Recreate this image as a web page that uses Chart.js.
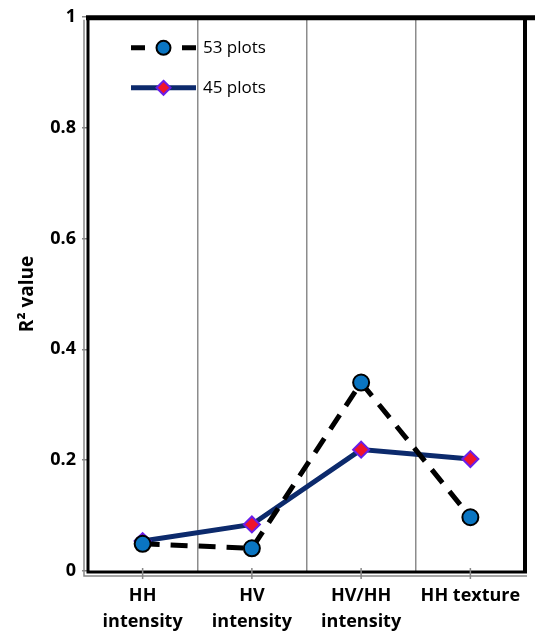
<!DOCTYPE html>
<html>
<head>
<meta charset="utf-8">
<script src="https://cdn.jsdelivr.net/npm/chart.js@4"></script>
<style>
  body { margin: 0; background: #fff; }
  #wrap { width: 535px; height: 635px; }
</style>
</head>
<body>
<div id="wrap"><canvas id="r2Chart" width="535" height="635"></canvas></div>
<script>
// data
let categories = [['HH', 'intensity'], ['HV', 'intensity'], ['HV/HH', 'intensity'], ['HH texture']];
let plots53 = [0.049, 0.041, 0.34, 0.097];
let plots45 = [0.054, 0.084, 0.219, 0.202];
let seriesNames = ['53 plots', '45 plots'];
let yTicks = [0, 0.2, 0.4, 0.6, 0.8, 1];

let fontFam = '"Open Sans", Lato, sans-serif';

// legend drawn inside the plot, top left
let insideLegend = {
    id: 'insideLegend',
    afterDatasetsDraw(chart) {
        let c = chart.ctx;
        let a = chart.chartArea;
        chart.data.datasets.forEach(function (ds, i) {
            let y = a.top + 31 + i * 40;
            let x0 = a.left + 43, x1 = a.left + 108, xm = (x0 + x1) / 2;
            c.save();
            c.strokeStyle = ds.borderColor;
            c.lineWidth = ds.borderWidth;
            c.beginPath();
            if (ds.borderDash) {
                c.moveTo(x0, y); c.lineTo(x0 + 14, y);
                c.moveTo(x1 - 14, y); c.lineTo(x1, y);
            } else {
                c.moveTo(x0, y); c.lineTo(x1, y);
            }
            c.stroke();
            c.fillStyle = ds.pointBackgroundColor;
            c.strokeStyle = ds.pointBorderColor;
            c.lineWidth = ds.pointBorderWidth;
            c.beginPath();
            if (ds.pointStyle === 'rectRot') {
                let r = ds.pointRadius - 1;
                c.moveTo(xm, y - r); c.lineTo(xm + r, y); c.lineTo(xm, y + r); c.lineTo(xm - r, y); c.closePath();
            } else {
                c.arc(xm, y, ds.pointRadius - 1, 0, Math.PI * 2);
            }
            c.fill();
            c.stroke();
            c.fillStyle = '#000';
            c.font = '17px ' + fontFam;
            c.textBaseline = 'middle';
            c.fillText(ds.label, x1 + 7, y);
            c.restore();
        });
    }
};

// heavy frame: thick top, right and axis lines, tick marks
let frame = {
    id: 'frame',
    afterDraw(chart) {
        let c = chart.ctx;
        let a = chart.chartArea;
        let xs = chart.scales.x;
        c.save();
        c.strokeStyle = '#000';
        c.lineWidth = 5;
        c.beginPath();
        c.moveTo(a.left - 2, a.top + 1); c.lineTo(chart.width, a.top + 1);
        c.stroke();
        c.lineWidth = 4;
        c.beginPath();
        c.moveTo(a.right, a.top); c.lineTo(a.right, a.bottom);
        c.stroke();
        c.lineWidth = 3;
        c.beginPath();
        c.moveTo(a.left, a.top); c.lineTo(a.left, a.bottom + 1);
        c.lineTo(a.right + 2, a.bottom + 1);
        c.stroke();
        c.strokeStyle = '#888';
        c.lineWidth = 1.5;
        c.beginPath();
        c.moveTo(a.left - 4, a.top + 3); c.lineTo(a.left - 4, a.bottom + 5);
        c.lineTo(a.right + 2, a.bottom + 5);
        categories.forEach(function (lab, i) {
            let px = xs.getPixelForValue(i);
            c.moveTo(px, a.bottom - 3); c.lineTo(px, a.bottom + 8);
        });
        c.stroke();
        c.restore();
    }
};

new Chart(document.getElementById('r2Chart'), {
    type: 'line',
    data: {
        labels: categories,
        datasets: [{
            label: seriesNames[0],
            data: plots53,
            borderColor: '#000',
            borderWidth: 5,
            borderDash: [17, 11],
            borderCapStyle: 'butt',
            pointStyle: 'circle',
            pointRadius: 8,
            pointBackgroundColor: '#0a75c2',
            pointBorderColor: '#000',
            pointBorderWidth: 2,
            tension: 0
        }, {
            label: seriesNames[1],
            data: plots45,
            borderColor: '#0c2a6c',
            borderWidth: 5,
            pointStyle: 'rectRot',
            pointRadius: 8,
            pointBackgroundColor: '#f0142a',
            pointBorderColor: '#6a1ee8',
            pointBorderWidth: 2,
            tension: 0
        }]
    },
    options: {
        responsive: false,
        animation: false,
        layout: { padding: { top: 16, right: 2, left: 0, bottom: 0 } },
        plugins: {
            legend: { display: false },
            tooltip: { enabled: false }
        },
        scales: {
            x: {
                offset: true,
                grid: {
                    offset: true,
                    color: '#8c8c8c',
                    lineWidth: 1.5,
                    drawTicks: false
                },
                border: { display: false },
                ticks: {
                    color: '#000',
                    padding: 12,
                    maxRotation: 0,
                    autoSkip: false,
                    font: { family: fontFam, size: 18, weight: 'bold', lineHeight: 1.45 }
                },
                afterFit(scale) { scale.height = 64; }
            },
            y: {
                min: 0,
                max: 1,
                afterBuildTicks(scale) { scale.ticks = yTicks.map(v => ({ value: v })); },
                grid: {
                    drawOnChartArea: false,
                    drawTicks: true,
                    tickLength: 6,
                    color: '#888',
                    lineWidth: 1.5
                },
                border: { display: false },
                ticks: {
                    color: '#000',
                    padding: 6,
                    font: { family: fontFam, size: 18, weight: 'bold' },
                    callback: function (v) { return String(v); }
                },
                title: {
                    display: true,
                    text: 'R² value',
                    color: '#000',
                    font: { family: fontFam, size: 19, weight: 'bold' },
                    padding: { top: 16, bottom: 0 }
                },
                afterFit(scale) { scale.width = 88; }
            }
        }
    },
    plugins: [insideLegend, frame]
});
</script>
</body>
</html>
